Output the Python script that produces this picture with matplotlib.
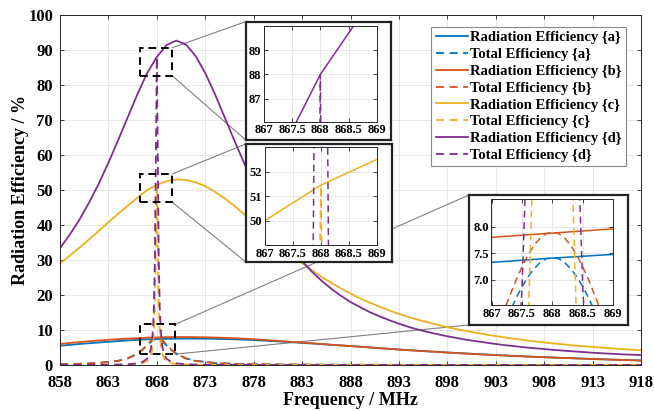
import numpy as np
import matplotlib
matplotlib.use('Agg')
import matplotlib.pyplot as plt
from matplotlib.patches import Rectangle, ConnectionPatch

plt.rcParams['font.family'] = ['Liberation Serif', 'DejaVu Serif']
plt.rcParams['font.weight'] = 'bold'

# radiation efficiency, sampled every 1 MHz
freq = np.arange(858, 919)
rad_a = [5.5, 5.75, 6.0, 6.22, 6.43, 6.62, 6.84, 7.02, 7.19, 7.33, 7.41, 7.48, 7.52, 7.54, 7.54, 7.52,
         7.48, 7.42, 7.34, 7.24, 7.12, 6.98, 6.83, 6.67, 6.5, 6.32, 6.14, 5.96, 5.78, 5.6, 5.42, 5.23,
         5.03, 4.83, 4.63, 4.43, 4.25, 4.08, 3.91, 3.75, 3.59, 3.43, 3.28, 3.13, 2.99, 2.85, 2.72, 2.59,
         2.47, 2.35, 2.24, 2.13, 2.03, 1.93, 1.83, 1.73, 1.64, 1.55, 1.47, 1.39, 1.31]
rad_b = [6.0, 6.3, 6.55, 6.8, 7.0, 7.2, 7.38, 7.53, 7.66, 7.8, 7.88, 7.96, 8.0, 8.0, 7.97, 7.92,
         7.85, 7.76, 7.65, 7.51, 7.36, 7.19, 7.0, 6.8, 6.6, 6.4, 6.2, 6.0, 5.8, 5.6, 5.4, 5.2,
         5.0, 4.8, 4.6, 4.4, 4.22, 4.05, 3.88, 3.72, 3.56, 3.4, 3.25, 3.1, 2.96, 2.82, 2.69, 2.56,
         2.44, 2.32, 2.21, 2.1, 2.0, 1.9, 1.8, 1.7, 1.61, 1.52, 1.44, 1.36, 1.28]
rad_c = [29.0, 31.2, 33.5, 35.9, 38.3, 40.8, 43.2, 45.5, 47.8, 50.0, 51.45, 52.5, 53.0, 52.9, 52.2, 51.1,
         49.5, 47.6, 45.5, 43.1, 40.7, 38.2, 35.8, 33.5, 31.2, 29.1, 27.1, 25.2, 23.5, 21.9, 20.4, 19.0,
         17.8, 16.7, 15.6, 14.6, 13.7, 12.9, 12.2, 11.5, 10.8, 10.2, 9.7, 9.2, 8.7, 8.25, 7.85, 7.45,
         7.1, 6.75, 6.45, 6.15, 5.9, 5.6, 5.4, 5.15, 4.95, 4.75, 4.55, 4.4, 4.2]
rad_d = [33.4, 37.2, 41.5, 46.4, 51.8, 57.8, 64.2, 70.8, 77.4, 83.4, 88.0, 91.4, 92.7, 91.6, 88.3, 83.4,
         77.4, 70.8, 64.2, 57.8, 51.8, 46.3, 41.4, 37.0, 33.1, 29.7, 26.7, 24.1, 21.8, 19.8, 18.0, 16.5,
         15.1, 13.9, 12.8, 11.8, 10.9, 10.1, 9.4, 8.8, 8.2, 7.7, 7.2, 6.8, 6.4, 6.0, 5.65, 5.35,
         5.05, 4.8, 4.55, 4.3, 4.1, 3.9, 3.7, 3.5, 3.35, 3.2, 3.05, 2.95, 2.85]

# total efficiency, finer sampling around the 868 MHz resonance
freq_t = [858, 860, 862, 864, 865, 866, 866.5, 867, 867.2, 867.4, 867.5, 867.6, 867.7, 867.8, 867.9,
          868, 868.1, 868.2, 868.3, 868.4, 868.5, 868.6, 868.8, 869, 869.5, 870, 871, 872, 874,
          876, 880, 885, 890, 900, 910, 918]
tot_a = [0.22, 0.34, 0.59, 1.2, 1.9, 3.24, 4.3, 5.61, 6.15, 6.65, 6.87, 7.06, 7.21, 7.33, 7.4,
         7.42, 7.4, 7.33, 7.21, 7.06, 6.87, 6.65, 6.15, 5.61, 4.3, 3.24, 1.9, 1.2, 0.59,
         0.34, 0.16, 0.08, 0.05, 0.02, 0.01, 0.01]
tot_b = [0.21, 0.33, 0.56, 1.16, 1.85, 3.23, 4.35, 5.8, 6.41, 6.99, 7.24, 7.47, 7.65, 7.79, 7.87,
         7.9, 7.87, 7.79, 7.65, 7.47, 7.24, 6.99, 6.41, 5.8, 4.35, 3.23, 1.85, 1.16, 0.56,
         0.33, 0.15, 0.08, 0.05, 0.02, 0.01, 0.01]
tot_c = [0.01, 0.02, 0.03, 0.07, 0.12, 0.28, 0.49, 1.09, 1.68, 2.91, 4.09, 6.11, 9.94, 18.0, 35.1,
         51.4, 35.1, 18.0, 9.94, 6.11, 4.09, 2.91, 1.68, 1.09, 0.49, 0.28, 0.12, 0.07, 0.03,
         0.02, 0.01, 0.0, 0.0, 0.0, 0.0, 0.0]
tot_d = [0.02, 0.03, 0.05, 0.12, 0.21, 0.46, 0.81, 1.81, 2.79, 4.85, 6.82, 10.2, 16.6, 30.3, 59.6,
         88.0, 59.6, 30.3, 16.6, 10.2, 6.82, 4.85, 2.79, 1.81, 0.81, 0.46, 0.21, 0.12, 0.05,
         0.03, 0.01, 0.0, 0.0, 0.0, 0.0, 0.0]

names = ['a', 'b', 'c', 'd']
colors = ['#0072BD', '#D95319', '#EDB120', '#7E2F8E']
rads = [rad_a, rad_b, rad_c, rad_d]
tots = [tot_a, tot_b, tot_c, tot_d]
dash = (0, (4.5, 3))


def draw_curves(ax, lw):
    for n, c, r, t in zip(names, colors, rads, tots):
        ax.plot(freq, r, color=c, lw=lw, label='Radiation Efficiency {%s}' % n)
        ax.plot(freq_t, t, color=c, lw=lw, linestyle=dash, label='Total Efficiency {%s}' % n)


def style_axes(ax, size):
    ax.grid(True, color='#e3e3e3', lw=0.6)
    ax.set_axisbelow(True)
    ax.tick_params(direction='in', top=True, right=True, length=3, width=0.6,
                   labelsize=size, colors='#262626', labelcolor='black')
    for s in ax.spines.values():
        s.set_color('#262626')
        s.set_linewidth(0.7)


fig = plt.figure(figsize=(6.54, 4.11), dpi=100)
W, H = 654.0, 411.0


def px_rect(x0, y0, x1, y1):
    return [x0 / W, 1 - y1 / H, (x1 - x0) / W, (y1 - y0) / H]


ax = fig.add_axes(px_rect(60, 15, 641, 365))
draw_curves(ax, 1.3)
ax.set_xlim(858, 918)
ax.set_ylim(0, 100)
ax.set_xticks(np.arange(858, 919, 5))
ax.set_yticks(np.arange(0, 101, 10))
style_axes(ax, 12)
ax.tick_params(axis='x', pad=7)
ax.tick_params(axis='y', pad=5)
ax.set_xlabel('Frequency / MHz', fontsize=13, fontweight='bold', labelpad=1)
ax.set_ylabel('Radiation Efficiency / %', fontsize=13, fontweight='bold')
ax.yaxis.set_label_coords(-0.054, 0.5)

leg = ax.legend(loc='upper right', bbox_to_anchor=(0.974, 0.967), borderaxespad=0, fontsize=10.5,
                handlelength=2.2, handletextpad=0.15, labelspacing=0.25, borderpad=0.3,
                fancybox=False, framealpha=1, edgecolor='#8a8a8a')
leg.get_frame().set_linewidth(0.8)

# zoom boxes on the main plot
boxes = [(866.26, 82.6, 869.6, 90.66), (866.26, 46.5, 869.6, 54.6), (866.26, 3.1, 869.9, 11.6)]
for x0, y0, x1, y1 in boxes:
    ax.add_patch(Rectangle((x0, y0), x1 - x0, y1 - y0, fill=False, ec='black', lw=1.4,
                           linestyle=(0, (4, 2.5)), zorder=5))

# insets: outer frame, inner axes, y-range, y-ticks
insets = [
    ((245.7, 21.7, 391, 140), (264, 26, 376.7, 121.7), (86.05, 90), [87, 88, 89]),
    ((245.7, 144, 392.3, 262), (265, 147.3, 376.7, 245), (49, 53), [50, 51, 52]),
    ((469, 195, 628.3, 325), (491.5, 199, 613.3, 305), (6.53, 8.52), [7, 7.5, 8]),
]
for (frame_px, inner_px, ylim, yt), (x0, y0, x1, y1) in zip(insets, boxes):
    fr = fig.add_axes(px_rect(*frame_px))
    fr.set_xticks([])
    fr.set_yticks([])
    fr.set_facecolor('white')
    for s in fr.spines.values():
        s.set_linewidth(1.6)
        s.set_color('#222222')
    for ya, yb in [(y1, 1), (y0, 0)]:
        con = ConnectionPatch(xyA=(x1, ya), coordsA=ax.transData, xyB=(0, yb), coordsB=fr.transAxes,
                              color='#808080', lw=0.8)
        ax.add_artist(con)
    ia = fig.add_axes(px_rect(*inner_px))
    draw_curves(ia, 1.1)
    ia.set_xlim(867, 869)
    ia.set_ylim(*ylim)
    ia.set_xticks([867, 867.5, 868, 868.5, 869])
    ia.set_xticklabels(['867', '867.5', '868', '868.5', '869'])
    ia.set_yticks(yt)
    style_axes(ia, 9)
    ia.tick_params(pad=2)

fig.savefig('out.png', dpi=100)
